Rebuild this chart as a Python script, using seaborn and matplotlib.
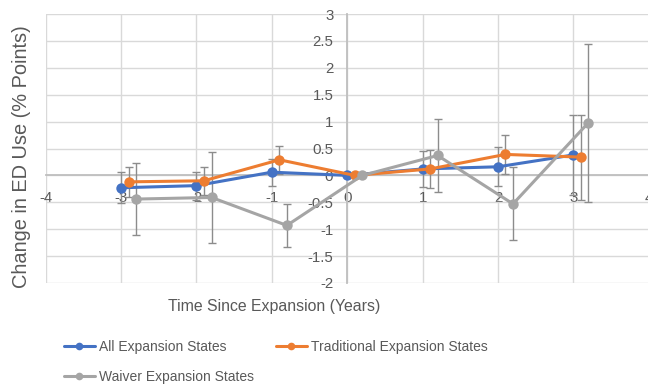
import numpy as np
import pandas as pd
import matplotlib
matplotlib.use('Agg')
import matplotlib.pyplot as plt
import seaborn as sns
from matplotlib import font_manager
from matplotlib.lines import Line2D

# Data
years = [-3, -2, -1, 0, 1, 2, 3]
series_names = ['All Expansion States', 'Traditional Expansion States', 'Waiver Expansion States']
all_est = [-0.23, -0.19, 0.06, 0.0, 0.12, 0.16, 0.38]
all_err = [0.29, 0.26, 0.25, np.nan, 0.34, 0.36, 0.75]
trad_est = [-0.12, -0.10, 0.29, 0.0, 0.12, 0.39, 0.34]
trad_err = [0.28, 0.26, 0.26, np.nan, 0.36, 0.36, 0.79]
waiver_est = [-0.44, -0.41, -0.93, 0.0, 0.37, -0.53, 0.98]
waiver_err = [0.67, 0.84, 0.40, np.nan, 0.67, 0.68, 1.47]
x_ticks = [-4, -3, -2, -1, 0, 1, 2, 3, 4]
y_ticks = [-2, -1.5, -1, -0.5, 0, 0.5, 1, 1.5, 2, 2.5, 3]

colors = ['#4472C4', '#ED7D31', '#A5A5A5']
dodge = [0.0, 0.1, 0.2]
text_color = '#595959'

rows = []
for name, est, err, off in zip(series_names, [all_est, trad_est, waiver_est],
                               [all_err, trad_err, waiver_err], dodge):
    for t, e, s in zip(years, est, err):
        rows.append({'series': name, 'x': t + off, 'est': e, 'err': s})
df = pd.DataFrame(rows)

sns.set_theme(style='whitegrid')
names = {f.name for f in font_manager.fontManager.ttflist}
narrow = 'Liberation Sans Narrow' in names
plt.rcParams['font.family'] = ['Liberation Sans', 'DejaVu Sans']
plt.rcParams['axes.unicode_minus'] = False
if narrow:
    small_fam = ['Liberation Sans Narrow', 'Liberation Sans']
    xlab_size, leg_size = 13.3, 12.1
else:
    small_fam = ['Liberation Sans', 'DejaVu Sans']
    xlab_size, leg_size = 11.4, 10

W, H = 648, 387
fig = plt.figure(figsize=(W / 100, H / 100), dpi=100)
ax = fig.add_axes([45.7 / W, 1 - 283 / H, 603 / W, 269 / H])

for name, col in zip(series_names, colors):
    sub = df[df['series'] == name]
    ok = sub['err'].notna()
    ax.errorbar(sub['x'][ok], sub['est'][ok], yerr=sub['err'][ok], fmt='none',
                ecolor='#8c8c8c', elinewidth=1, capsize=3.2, capthick=1, zorder=2)
sns.lineplot(data=df, x='x', y='est', hue='series', palette=colors, marker='o',
             markersize=7.5, markeredgewidth=0, linewidth=2.2, legend=False,
             sort=False, ax=ax, zorder=3)

ax.set_xlim(-4, 4)
ax.set_ylim(-2, 3)
ax.set_xticks(x_ticks)
ax.set_yticks(y_ticks)
ax.set_xticklabels([f'{v:g}' for v in x_ticks])
ax.set_yticklabels([f'{v:g}' for v in y_ticks])
ax.set_axisbelow(True)
ax.grid(True, color='#d9d9d9', linewidth=1.0)
ax.set_facecolor('white')
ax.tick_params(length=0, labelsize=10.8, colors=text_color)
ax.tick_params(axis='x', pad=11)
ax.tick_params(axis='y', pad=10)
for side in ['top', 'right']:
    ax.spines[side].set_visible(False)
for side in ['left', 'bottom']:
    ax.spines[side].set_position(('data', 0))
    ax.spines[side].set_color('#bfbfbf')
    ax.spines[side].set_linewidth(1.3)
    ax.spines[side].set_zorder(1)
ax.set_xlabel('')
ax.set_ylabel('')

fig.text(274 / W, 1 - 306.5 / H, 'Time Since Expansion (Years)', ha='center', va='center',
         fontsize=xlab_size, color=text_color, family=small_fam)
fig.text(22 / W, 1 - 157 / H, 'Change in ED Use (% Points)', ha='center', va='center',
         rotation=90, fontsize=14.4, color=text_color)

# legend is filled column by column, so order it to read row by row
order = [0, 2, 1]
handles = [Line2D([0], [0], color=colors[i], lw=2.2, marker='o', markersize=5.5,
                  markeredgewidth=0) for i in order]
leg = fig.legend(handles, [series_names[i] for i in order], ncol=2, loc='upper left',
                 bbox_to_anchor=(64 / W, 1 - 339.5 / H), frameon=False,
                 prop={'family': small_fam, 'size': leg_size},
                 handlelength=2.2, handletextpad=0.3, columnspacing=1.6,
                 labelspacing=1.2, borderpad=0, borderaxespad=0)
for t in leg.get_texts():
    t.set_color(text_color)

fig.savefig('out.png', dpi=100, facecolor='white')
